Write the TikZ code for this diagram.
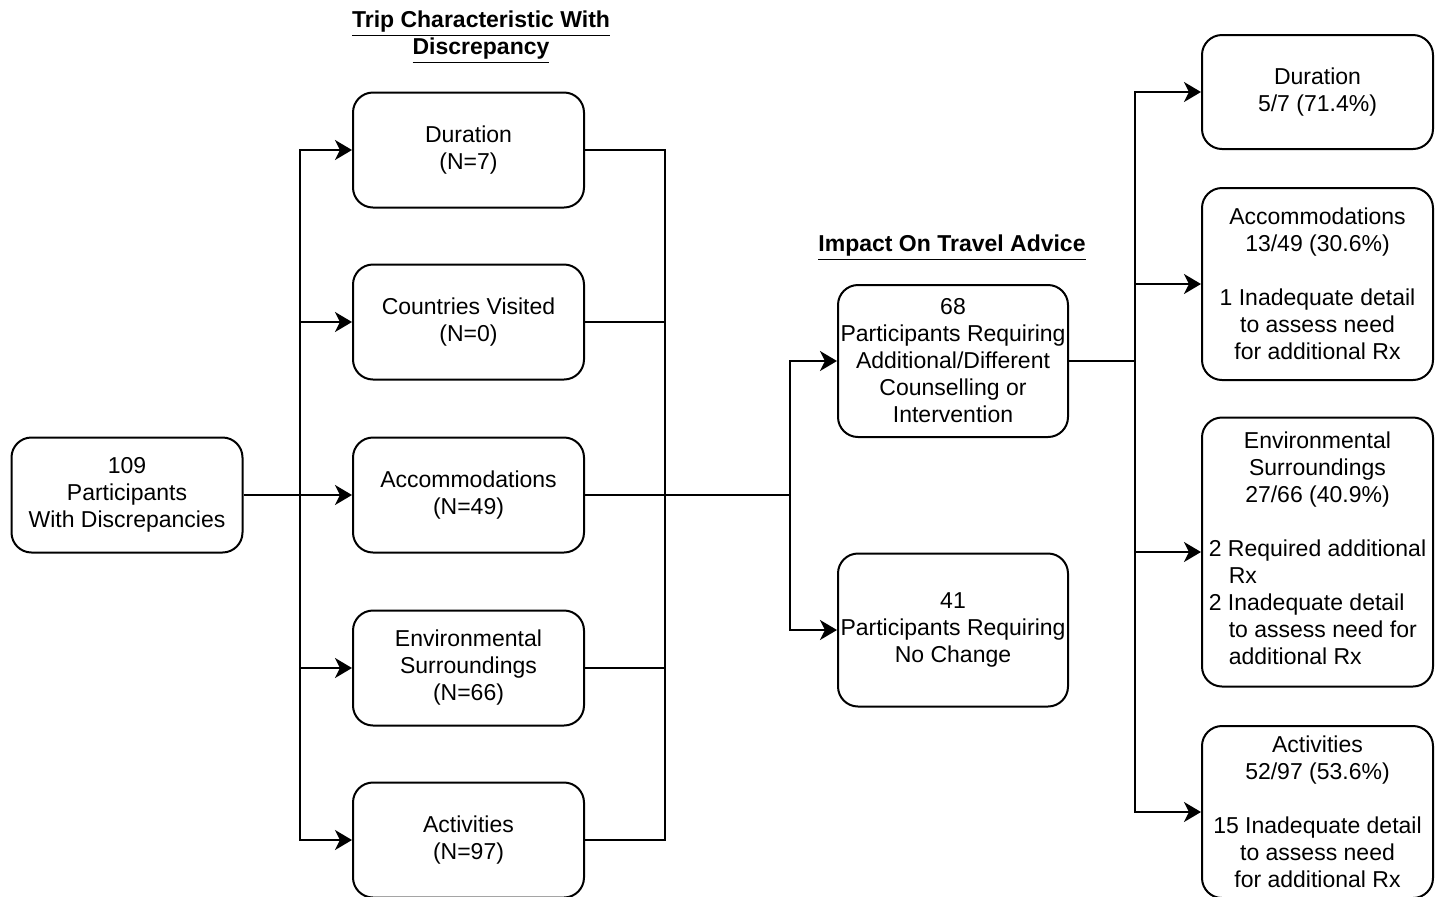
\documentclass[tikz,border=0pt]{standalone}
\usepackage{fontspec}
\setmainfont{Liberation Sans}
\usetikzlibrary{arrows.meta}
\begin{document}
\begin{tikzpicture}[x=0.5pt,y=-0.5pt,
  font=\fontsize{11.5}{13.5}\selectfont,
  box/.style={draw, line width=1pt, rounded corners=10pt, align=center,
    inner sep=0pt, minimum width=115.5pt, minimum height=57.5pt},
  title/.style={font=\fontsize{11.5}{13.5}\selectfont\bfseries, align=center},
  link/.style={line width=1pt},
  arrow/.style={line width=1pt, -{Stealth[length=8.5pt,width=10pt,inset=2.5pt]}}]
\useasboundingbox (0,0) rectangle (1442,896);
% first column: all participants
\node[box] (start) at (127,495) {109\\Participants\\With Discrepancies};
% second column: trip characteristics
\node[title] (tripT) at (481,37) {\underline{Trip Characteristic With}\\\underline{Discrepancy}};
\node[box] (dur) at (468.5,150) {Duration\\(N=7)};
\node[box] (cty) at (468.5,322) {Countries Visited\\(N=0)};
\node[box] (acc) at (468.5,495) {Accommodations\\(N=49)};
\node[box] (env) at (468.5,668) {Environmental\\Surroundings\\(N=66)};
\node[box] (act) at (468.5,840) {Activities\\(N=97)};
% third column: impact on advice
\node[title] (impT) at (952,248) {\underline{Impact On Travel Advice}};
\node[box, minimum width=115pt, minimum height=76pt] (need) at (953,361)
  {68\\Participants Requiring\\Additional/Different\\Counselling or\\Intervention};
\node[box, minimum width=115pt, minimum height=76.5pt] (none) at (953,630)
  {41\\Participants Requiring\\No Change};
% fourth column: breakdown
\node[box, minimum height=57pt] (rdur) at (1317.5,92) {Duration\\5/7 (71.4\%)};
\node[box, minimum height=96pt] (racc) at (1317.5,284)
  {Accommodations\\13/49 (30.6\%)\\[13.5pt]1 Inadequate detail\\to assess need\\for additional Rx};
\node[box, minimum height=134.5pt] (renv) at (1317.5,552)
  {Environmental\\Surroundings\\27/66 (40.9\%)\\[13.5pt]%
  \begin{tabular}[t]{@{}l@{}}2 Required additional\\\hspace{10pt}Rx\\2 Inadequate detail\\\hspace{10pt}to assess need for\\\hspace{10pt}additional Rx\end{tabular}};
\node[box, minimum height=86pt] (ract) at (1317.5,812)
  {Activities\\52/97 (53.6\%)\\[13.5pt]15 Inadequate detail\\to assess need\\for additional Rx};
% junction points
\coordinate (fanL) at (300,495);
\coordinate (mergeR) at (665,495);
\coordinate (fanM) at (790,495);
\coordinate (fanR) at (1135,361);
% connectors
\draw[link] (start.east) -- (fanL);
\foreach \n in {dur,cty,acc,env,act}
  \draw[arrow] (fanL) |- (\n.west);
\foreach \n in {dur,cty,env,act}
  \draw[link] (\n.east) -| (mergeR);
\draw[link] (acc.east) -- (fanM);
\draw[arrow] (fanM) |- (need.west);
\draw[arrow] (fanM) |- (none.west);
\draw[link] (need.east) -- (fanR);
\foreach \n in {rdur,racc,renv,ract}
  \draw[arrow] (fanR) |- (\n.west);
\end{tikzpicture}
\end{document}
